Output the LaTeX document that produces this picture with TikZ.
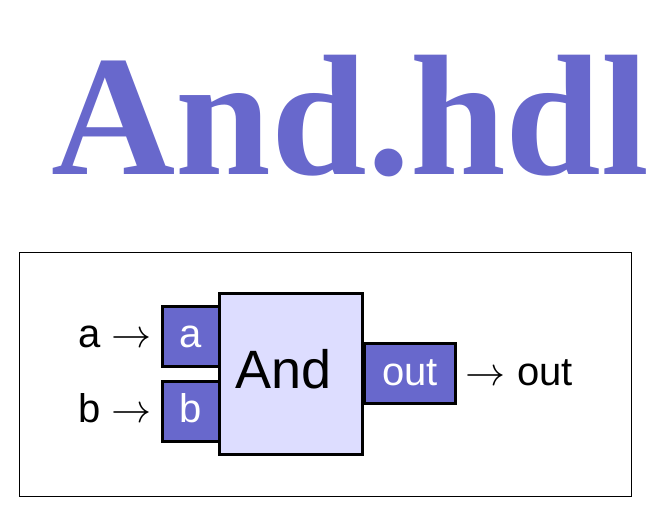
\RequirePackage{fix-cm}
\documentclass[tikz,border=0pt]{standalone}
\usepackage{fontspec}
\setmainfont{Liberation Sans}
\newfontfamily\titlefont{Liberation Serif}
\usetikzlibrary{positioning}
\definecolor{hdlblue}{RGB}{104,104,204}
\definecolor{chipfill}{RGB}{221,221,255}
\tikzset{
  chiptitle/.style={
    font=\titlefont\bfseries\fontsize{172}{172}\selectfont,
    text=hdlblue,
    inner sep=0pt,
    anchor=base,
  },
  boxframe/.style={
    draw=black,
    line width=1.2pt,
    minimum width=612.1pt,
    minimum height=243.8pt,
    inner sep=0pt,
  },
  chip/.style={
    draw=black,
    fill=chipfill,
    line width=3pt,
    minimum width=143.3pt,
    minimum height=161.6pt,
    inner sep=0pt,
  },
  pinbox/.style={
    draw=black,
    fill=hdlblue,
    line width=3pt,
    text=white,
    font=\fontsize{40}{40}\selectfont,
    minimum height=59.7pt,
    text height=23pt,
    text depth=0pt,
    inner sep=0pt,
  },
  chiplabel/.style={
    font=\fontsize{54}{54}\selectfont,
    inner sep=0pt,
    anchor=base,
  },
  wire/.style={
    font=\fontsize{40}{40}\selectfont,
    inner sep=0pt,
  },
}

\begin{document}
\begin{tikzpicture}[x=1pt,y=-1pt]
		\useasboundingbox (0,0) rectangle (655,511);
		\def\gap{9pt}

		% title and frame
		\node[chiptitle] (title) at (350.4,174) {And.hdl};
		\node[boxframe] (frame) at (325.65,374.2) {};

		% pins and chip
		\node[pinbox,minimum width=57pt] (pina) at (190.6,336.4) {a};
		\node[pinbox,minimum width=57pt] (pinb) at (190.6,411.4) {b};
		\node[pinbox,minimum width=90.4pt] (pinout) at (410,373.65) {out};
		\node[chip] (and) at (290.85,374) {};
		\node[chiplabel] (andlabel) at (283.7,388) {And};

		% wires
		\node[wire,base left=\gap of pina] (ina) {a $\rightarrow$};
		\node[wire,base left=\gap of pinb] (inb) {b $\rightarrow$};
		\node[wire,base right=\gap of pinout] (outw) {$\rightarrow$ out};

	\end{tikzpicture}
\end{document}
